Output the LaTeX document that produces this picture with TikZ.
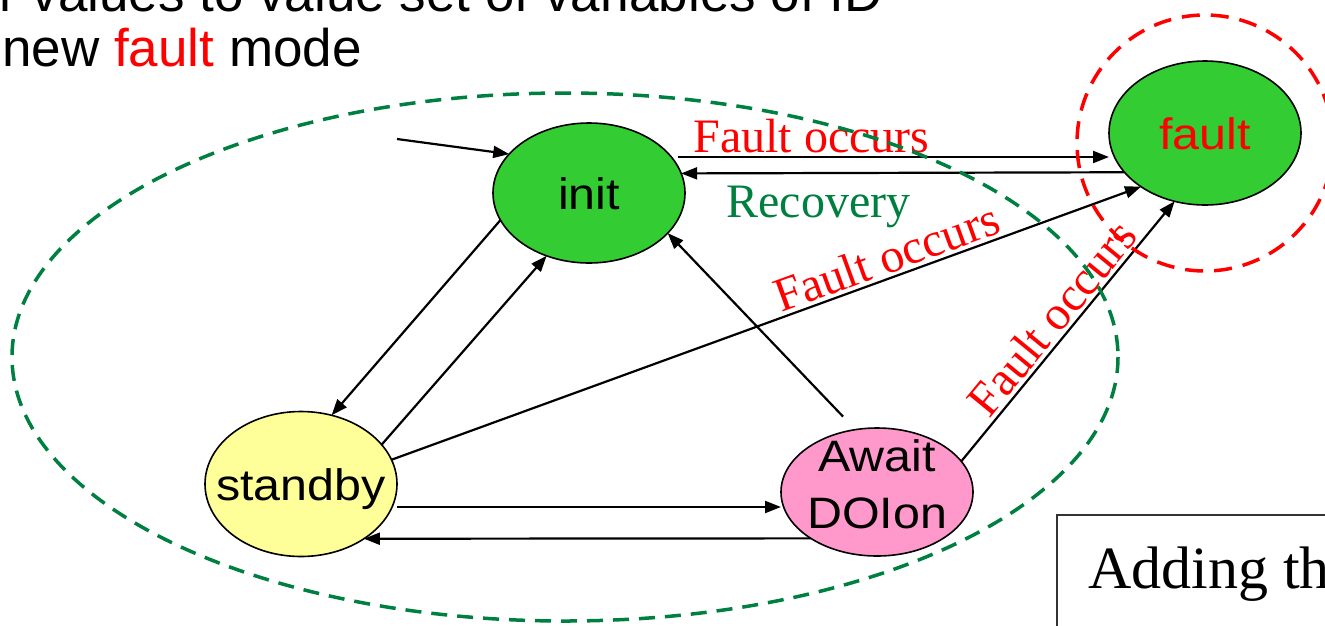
\documentclass[tikz,border=0pt]{standalone}
\usepackage{fontspec}
\setmainfont{Liberation Serif}
\newfontfamily\arialf{Liberation Sans}
\newfontfamily\arialwide{Liberation Sans}[FakeStretch=1.1]
\usetikzlibrary{arrows.meta,shapes.geometric}
\definecolor{stategreen}{HTML}{33CC33}
\definecolor{stateyellow}{HTML}{FFFF99}
\definecolor{statepink}{HTML}{FF99CC}
\definecolor{groupgreen}{HTML}{008040}
\begin{document}
\begin{tikzpicture}[x=1pt,y=-1pt,
  state/.style={ellipse, draw=black, line width=1.6pt, inner sep=0pt, outer sep=0pt, minimum width=192pt},
  statetext/.style={inner sep=0pt, font=\arialwide\fontsize{44}{57}\selectfont, align=center},
  oneline/.style={text height=32pt, text depth=0pt},
  arr/.style={-{Triangle[length=16pt,width=12pt]}, line width=2.2pt},
  lbl/.style={font=\fontsize{48}{57}\selectfont, inner sep=3pt},
  heading/.style={anchor=base west, inner sep=0pt, font=\arialf\fontsize{53}{53}\selectfont},
]
\useasboundingbox (0,0) rectangle (1325,625);
\clip (0,0) rectangle (1325,625);
\fill[white] (0,0) rectangle (1325,625);

% heading lines
\node[heading] (headOne) at (-1,11) {r values to value set of variables of ID};
\node[heading] (headTwo) at (2,66) {new \textcolor{red}{fault} mode};

% states
\node[state, fill=stategreen, minimum height=140pt] (init) at (589,193) {};
\node[state, fill=stategreen, minimum height=144pt] (fault) at (1205,133) {};
\node[state, fill=stateyellow, minimum height=145pt] (standby) at (301,484) {};
\node[state, fill=statepink, minimum height=128pt] (await) at (877,492) {};

\node[statetext, oneline] (initText) at (init) {init};
\node[statetext, oneline, text=red] (faultText) at (fault) {fault};
\node[statetext, oneline] (standbyText) at (standby) {standby};
\node[statetext] (awaitText) at (877,484) {Await\\DOIon};

% transitions
\coordinate (entry) at (397,139);
\draw[arr] (entry) -- (init.154.9);
\draw[arr] ([shift={(-7pt,36pt)}]init.east) -- node[lbl, above, pos=0.31, text=red] (lblTop) {Fault occurs} ([yshift=-24pt]fault.west);
\draw[arr] (fault.206.6) -- node[lbl, below=9pt, pos=0.69, text=groupgreen] (lblRec) {Recovery} (init.12.3);
\draw[arr] (standby.15.2) -- node[lbl, sloped, above, pos=0.67, text=red] (lblMid) {Fault occurs} (fault.220.2);
\draw[arr] (await.20.5) -- node[lbl, sloped, above, pos=0.5, text=red] (lblRight) {Fault occurs} (fault.246.3);
\draw[arr] (init.197) -- (standby.66.6);
\draw[arr] (standby.26.8) -- (init.236.8);
\draw[arr, shorten <=18pt] (await.109.5) -- (init.333.2);
\draw[arr] ([yshift=-23pt]standby.east) -- ([yshift=-15pt]await.west);
\draw[arr] (await.215.8) -- (standby.-41.35);

% groupings
\draw[groupgreen, line width=3.5pt, dash pattern=on 16pt off 10pt] (565,357) ellipse [x radius=553, y radius=264];
\draw[red, line width=3.5pt, dash pattern=on 18pt off 11pt] (1205,143) circle [radius=128];

% note box
\draw[black!80, line width=1.5pt] (1057,515) rectangle (1345,645);
\node[anchor=base west, inner sep=0pt, font=\fontsize{60}{60}\selectfont] (note) at (1088,588) {Adding th};
\end{tikzpicture}
\end{document}
